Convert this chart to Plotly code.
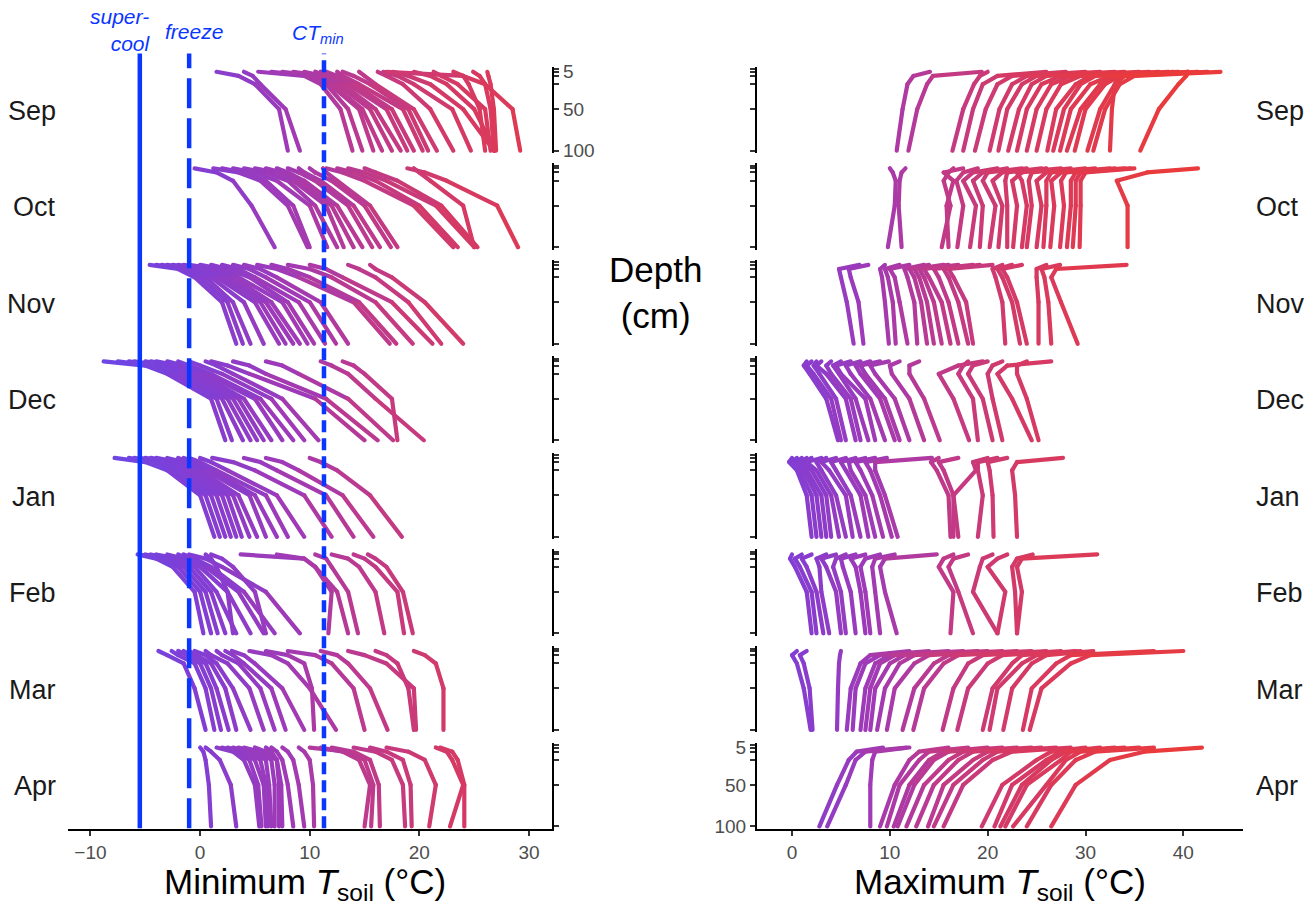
import plotly.graph_objects as go

# ---------------- data ----------------
DEPTHS = [5, 10, 20, 50, 100]          # cm
MONTHS = ["Sep", "Oct", "Nov", "Dec", "Jan", "Feb", "Mar", "Apr"]
DEPTH_TICKS = [2, 5, 10, 20, 50, 100]
DEPTH_LABELS = ["", "5", "", "", "50", "100"]
MIN_TICKS = [-10, 0, 10, 20, 30]
MAX_TICKS = [0, 10, 20, 30, 40]
SUPERCOOL = -5.5
FREEZE = -1.0
CT_MIN = 11.3

# Minimum soil temperature profiles, values at DEPTHS
MIN_SEP = [
    [1.5, 3.5, 5.0, 7.2, 8.0], [4.0, 4.8, 5.5, 7.8, 9.1], [5.3, 9.5, 11.0, 12.8, 13.9],
    [6.5, 10.0, 11.5, 13.5, 14.8], [7.5, 10.5, 11.8, 14.5, 15.8], [8.5, 11.0, 12.0, 14.8, 16.6],
    [9.5, 11.2, 12.5, 15.5, 17.5], [10.5, 11.5, 13.0, 16.0, 18.3], [11.0, 12.0, 13.5, 17.0, 18.9],
    [11.5, 12.5, 14.0, 17.5, 19.5], [12.5, 13.0, 14.5, 18.5, 20.3], [13.0, 14.0, 15.5, 19.0, 20.8],
    [14.5, 15.0, 16.0, 19.5, 21.6], [16.2, 17.0, 18.5, 21.0, 23.1], [16.7, 18.0, 19.5, 23.0, 24.7],
    [17.6, 19.0, 21.0, 24.0, 26.8], [19.5, 21.0, 22.5, 25.0, 26.9], [21.3, 22.0, 23.5, 26.0, 26.5],
    [23.1, 24.0, 24.5, 25.5, 26.0], [24.9, 25.5, 26.0, 26.5, 26.8], [17.0, 24.0, 26.0, 28.5, 29.2],
    [26.2, 26.3, 26.5, 26.8, 27.0],
]
MIN_OCT = [
    [-0.5, 1.5, 3.0, 4.7, 6.8], [1.2, 3.5, 5.5, 8.0, 9.8], [2.0, 4.0, 6.0, 8.5, 10.0],
    [3.0, 5.0, 7.0, 10.0, 11.6], [4.0, 6.0, 8.0, 10.5, 12.5], [5.0, 7.0, 8.5, 11.5, 13.1],
    [6.0, 7.5, 9.0, 12.0, 14.0], [7.0, 8.0, 9.5, 12.5, 14.8], [8.0, 9.0, 10.5, 13.5, 15.7],
    [9.0, 9.5, 11.0, 14.0, 16.4], [10.0, 10.5, 12.0, 15.0, 17.4], [11.2, 11.5, 12.5, 15.5, 18.0],
    [11.5, 13.0, 15.0, 19.5, 23.1], [12.5, 14.0, 16.0, 20.0, 23.5], [13.5, 15.0, 17.0, 21.5, 25.0],
    [15.0, 16.0, 18.0, 22.0, 25.3], [18.9, 20.5, 22.5, 27.1, 29.0], [19.5, 20.0, 21.0, 24.0, 25.0],
]
MIN_NOV = [
    [-4.6, -2.0, -0.5, 2.0, 3.3], [-4.0, -1.5, 0.0, 2.5, 3.9], [-3.5, -1.0, 0.5, 3.0, 4.6],
    [-3.0, -0.5, 1.0, 4.0, 5.8], [-2.5, 0.0, 1.5, 5.0, 7.2], [-2.0, 0.5, 2.0, 5.5, 7.8],
    [-1.5, 1.0, 2.5, 6.0, 8.5], [-1.0, 1.5, 3.0, 6.5, 9.1], [0.0, 2.0, 3.5, 7.5, 9.8],
    [1.0, 2.5, 4.5, 8.0, 10.4], [2.0, 3.5, 5.0, 9.0, 11.4], [3.0, 4.5, 6.0, 10.0, 12.4],
    [4.0, 5.5, 7.0, 11.0, 13.5], [5.2, 7.0, 9.0, 14.0, 17.3], [6.5, 8.0, 10.0, 14.5, 17.9],
    [8.0, 10.0, 12.0, 16.0, 19.4], [10.0, 11.5, 13.0, 17.5, 21.2], [13.5, 14.5, 16.0, 19.0, 22.0],
    [15.5, 16.0, 17.5, 20.5, 24.0],
]
MIN_DEC = [
    [-8.8, -5.0, -3.0, 1.0, 2.3], [-7.5, -4.5, -2.5, 1.5, 2.9], [-6.5, -4.0, -2.0, 2.0, 3.9],
    [-6.0, -3.5, -1.5, 2.5, 4.6], [-5.0, -3.0, -1.0, 3.0, 5.2], [-4.5, -2.5, -0.5, 3.5, 5.8],
    [-4.0, -2.0, 0.0, 4.0, 6.5], [-3.0, -1.5, 0.5, 5.0, 7.5], [-2.0, -1.0, 1.0, 5.5, 8.5],
    [-1.0, 0.0, 2.0, 6.5, 9.5], [0.5, 1.5, 3.0, 7.5, 10.8], [1.0, 2.5, 4.5, 10.5, 15.0],
    [3.0, 4.5, 6.0, 11.5, 16.2], [6.0, 7.5, 9.0, 13.5, 17.6], [11.0, 12.0, 13.5, 16.0, 20.4],
    [13.0, 14.0, 15.0, 17.5, 18.0],
]
MIN_JAN = [
    [-7.8, -5.0, -3.0, 0.0, 1.3], [-6.5, -4.5, -2.5, 0.5, 1.8], [-6.0, -4.0, -2.0, 1.0, 2.3],
    [-5.5, -3.5, -1.5, 1.5, 2.8], [-5.0, -3.0, -1.2, 2.0, 3.3], [-4.5, -2.5, -1.0, 2.5, 3.8],
    [-4.0, -2.0, -0.5, 3.0, 4.5], [-3.0, -1.5, 0.0, 3.5, 5.2], [-2.0, -1.0, 0.5, 4.5, 6.0],
    [-1.5, -0.5, 1.0, 5.0, 7.0], [-1.0, 0.0, 1.5, 6.0, 8.0], [0.0, 1.0, 2.5, 7.0, 9.5],
    [1.1, 3.0, 5.0, 9.5, 12.0], [4.0, 5.5, 7.0, 11.5, 14.0], [6.0, 7.5, 9.0, 13.0, 15.8],
    [10.0, 11.0, 12.5, 15.5, 18.4],
]
MIN_FEB = [
    [-5.7, -4.0, -2.5, -0.5, 0.3], [-5.5, -3.5, -2.0, 0.0, 1.0], [-5.0, -3.0, -1.5, 0.5, 1.6],
    [-4.5, -2.5, -1.0, 1.0, 2.3], [-4.0, -2.0, -0.5, 1.5, 3.3], [-3.0, -1.5, 0.0, 2.5, 4.6],
    [-2.0, -1.0, 0.5, 3.5, 5.8], [-1.5, -0.5, 1.0, 4.0, 6.8], [-1.0, 0.5, 2.0, 6.0, 9.1],
    [0.5, 1.0, 1.5, 2.5, 3.0], [1.0, 2.0, 3.0, 5.0, 6.0], [3.7, 9.5, 10.5, 12.5, 13.5],
    [7.0, 9.5, 10.5, 12.0, 11.7], [10.5, 11.5, 12.0, 13.5, 14.4], [12.0, 13.5, 14.5, 16.0, 16.8],
    [14.0, 15.0, 16.0, 18.0, 18.6], [15.3, 16.0, 17.0, 18.5, 19.4],
]
MIN_MAR = [
    [-3.8, -3.0, -1.5, -0.5, 0.5], [-2.6, -2.0, -0.5, 0.5, 1.3], [-2.0, -1.2, 0.0, 1.0, 1.9],
    [-1.5, -0.8, 0.5, 1.5, 2.6], [-1.0, -0.3, 1.0, 2.3, 3.3], [-0.5, 0.5, 1.5, 3.0, 4.6],
    [0.5, 1.0, 2.5, 4.5, 5.8], [1.5, 2.0, 3.5, 5.5, 6.8], [2.3, 3.0, 4.0, 6.5, 7.8],
    [2.9, 4.0, 5.0, 7.5, 9.5], [6.0, 8.0, 9.5, 10.2, 10.4], [4.5, 6.5, 8.0, 10.0, 12.4],
    [8.0, 10.5, 12.0, 14.0, 15.0], [11.0, 12.5, 13.5, 15.5, 17.1], [13.5, 15.0, 17.0, 19.5, 19.7],
    [16.0, 17.0, 18.0, 19.0, 19.5], [19.5, 20.5, 21.5, 22.2, 22.2],
]
MIN_APR = [
    [0.0, 0.3, 0.5, 0.8, 1.0], [0.5, 1.0, 1.8, 2.8, 3.3], [1.5, 3.0, 4.0, 5.0, 5.4],
    [2.0, 3.5, 4.5, 5.3, 5.6], [2.5, 4.0, 5.0, 5.8, 6.0], [3.0, 4.5, 5.5, 6.0, 6.2],
    [3.5, 5.0, 6.0, 6.3, 6.5], [4.0, 5.5, 6.5, 6.8, 6.8], [5.0, 6.0, 7.0, 7.2, 7.2],
    [6.0, 6.5, 7.0, 7.4, 7.5], [6.5, 7.0, 7.5, 8.0, 8.5], [7.5, 8.0, 8.5, 9.0, 9.5],
    [9.0, 9.5, 10.0, 10.3, 10.4], [11.0, 13.0, 14.5, 15.5, 15.0], [10.0, 13.5, 15.0, 15.8, 15.6],
    [12.0, 14.0, 15.5, 16.3, 16.4], [14.0, 16.0, 17.5, 18.5, 18.7], [15.5, 17.0, 18.5, 19.2, 19.3],
    [17.0, 19.0, 20.5, 21.5, 20.9], [21.5, 22.5, 23.0, 24.0, 22.8], [21.9, 23.0, 23.5, 24.1, 24.1],
]

# Maximum soil temperature profiles, values at DEPTHS
MAX_SEP = [
    [14.1, 12.4, 11.8, 11.3, 10.7], [19.4, 14.4, 13.8, 12.8, 11.9], [20.0, 19.2, 18.6, 17.5, 16.4],
    [26.0, 21.0, 19.5, 18.5, 17.5], [28.0, 22.5, 21.0, 19.8, 18.7], [30.0, 24.0, 22.5, 21.2, 20.2],
    [31.5, 25.0, 23.5, 22.0, 21.1], [33.0, 26.0, 24.5, 23.2, 22.1], [34.0, 27.5, 25.5, 24.0, 23.0],
    [35.5, 28.5, 26.5, 25.0, 24.0], [36.5, 29.5, 27.5, 26.0, 25.0], [37.5, 30.5, 29.0, 27.0, 26.1],
    [38.5, 31.0, 29.5, 27.8, 26.7], [39.5, 32.5, 30.5, 28.5, 27.4], [40.5, 33.0, 31.5, 29.5, 28.1],
    [41.5, 33.5, 32.0, 30.0, 28.9], [42.5, 34.0, 33.0, 31.5, 30.2], [43.8, 35.0, 33.5, 32.0, 30.8],
    [40.5, 40.3, 39.5, 37.5, 35.6], [39.0, 33.5, 33.0, 32.7, 32.5],
]
MAX_OCT = [
    [10.0, 10.3, 10.6, 10.5, 9.8], [11.6, 11.2, 11.0, 10.9, 11.2], [16.5, 16.0, 15.5, 16.2, 15.3],
    [17.5, 15.5, 16.5, 15.8, 16.0], [19.0, 17.5, 16.8, 17.5, 16.9], [21.0, 18.5, 17.5, 18.8, 18.2],
    [22.0, 19.5, 18.5, 19.5, 19.2], [23.5, 20.0, 19.5, 20.8, 20.2], [24.0, 21.5, 20.5, 21.5, 21.1],
    [25.5, 22.0, 21.8, 22.0, 22.0], [26.0, 23.5, 22.5, 23.0, 22.6], [27.5, 23.0, 23.5, 24.0, 23.5],
    [28.5, 24.5, 24.2, 24.5, 24.0], [30.0, 26.0, 25.0, 25.5, 25.0], [31.0, 26.5, 26.0, 26.0, 25.7],
    [32.5, 27.5, 26.5, 26.8, 26.4], [34.0, 28.0, 27.5, 27.8, 27.4], [34.6, 29.0, 28.5, 28.5, 28.1],
    [33.0, 29.5, 29.0, 29.0, 28.7], [35.0, 30.0, 29.5, 29.5, 29.4], [41.5, 36.3, 33.2, 34.3, 34.3],
]
MAX_NOV = [
    [6.9, 4.8, 5.0, 5.6, 6.3], [7.8, 5.8, 6.0, 6.8, 7.3], [9.5, 9.0, 9.2, 9.5, 9.9],
    [11.0, 9.5, 9.8, 10.3, 10.6], [12.0, 10.0, 10.5, 11.0, 11.8], [13.5, 11.5, 11.8, 12.5, 12.8],
    [14.0, 12.0, 12.5, 13.2, 13.8], [15.5, 12.5, 13.0, 13.8, 14.5], [16.0, 13.0, 13.5, 14.5, 15.3],
    [17.0, 13.5, 14.0, 15.3, 16.2], [18.5, 14.5, 15.0, 16.0, 17.0], [19.2, 15.5, 16.0, 17.0, 18.0],
    [20.5, 16.0, 16.5, 17.8, 18.5], [21.5, 20.5, 20.8, 21.5, 21.8], [22.5, 21.0, 21.5, 22.5, 23.3],
    [23.5, 21.5, 22.0, 23.0, 24.0], [26.0, 25.0, 25.0, 25.2, 25.2], [27.4, 25.5, 25.8, 26.2, 26.5],
    [34.2, 27.0, 26.5, 27.5, 29.2],
]
MAX_DEC = [
    [1.5, 1.2, 1.8, 3.5, 4.7], [2.0, 1.5, 2.2, 4.0, 5.0], [2.5, 2.2, 2.8, 4.5, 5.5],
    [3.0, 2.5, 3.5, 5.5, 6.5], [4.0, 3.5, 4.0, 6.0, 7.0], [5.0, 4.2, 4.8, 6.5, 7.8],
    [6.0, 4.5, 5.0, 7.5, 8.5], [7.0, 5.5, 6.0, 8.0, 9.5], [8.0, 6.5, 7.0, 9.0, 10.5],
    [9.0, 7.0, 7.5, 9.5, 11.0], [9.9, 8.0, 8.5, 10.5, 12.0], [11.0, 10.0, 10.2, 12.0, 13.5],
    [13.0, 12.0, 12.0, 13.5, 15.1], [19.5, 17.0, 15.0, 16.5, 18.1], [18.0, 17.5, 17.0, 18.5, 19.0],
    [20.0, 18.5, 18.0, 19.5, 20.5], [21.5, 20.5, 20.0, 20.5, 21.5], [26.5, 22.0, 21.0, 22.5, 24.5],
    [24.0, 23.0, 23.0, 24.0, 25.2],
]
MAX_JAN = [
    [0.0, -0.3, 0.5, 1.5, 2.0], [0.5, 0.0, 0.8, 2.0, 2.5], [1.0, 0.5, 1.2, 2.5, 3.0],
    [1.5, 0.8, 1.5, 3.0, 3.5], [2.0, 1.2, 2.0, 3.5, 4.0], [3.0, 1.5, 2.5, 4.0, 4.8],
    [3.5, 2.5, 3.0, 4.5, 5.5], [4.5, 3.0, 3.8, 5.5, 6.2], [5.5, 4.0, 4.5, 6.0, 7.0],
    [6.5, 5.0, 5.5, 7.0, 7.8], [7.5, 5.8, 6.0, 7.5, 8.5], [8.5, 6.5, 7.0, 8.2, 9.3],
    [9.7, 7.5, 8.0, 9.0, 10.2], [14.3, 8.5, 8.5, 9.5, 10.8], [15.0, 14.2, 14.8, 16.0, 16.2],
    [17.0, 15.0, 15.5, 16.5, 17.0], [20.0, 18.5, 18.8, 16.5, 16.5], [21.0, 19.0, 19.0, 19.5, 19.0],
    [22.0, 20.0, 20.2, 20.5, 20.6], [27.7, 23.0, 22.5, 22.8, 23.0],
]
MAX_FEB = [
    [0.0, -0.2, 0.3, 1.5, 2.0], [1.0, 0.3, 0.8, 2.0, 2.5], [2.0, 1.0, 1.5, 2.5, 3.2],
    [3.5, 2.5, 2.8, 3.0, 3.8], [4.5, 3.0, 3.5, 4.5, 5.0], [5.5, 4.5, 4.2, 5.0, 5.5],
    [6.5, 5.0, 5.2, 6.0, 6.5], [7.5, 6.0, 6.5, 7.0, 7.5], [9.0, 7.5, 7.0, 7.5, 8.0],
    [10.5, 8.5, 8.2, 8.5, 9.0], [14.8, 9.5, 9.0, 9.5, 10.7], [16.5, 15.5, 15.0, 16.5, 16.2],
    [18.0, 16.5, 16.0, 17.0, 18.5], [20.5, 19.5, 19.2, 18.5, 21.0], [22.0, 21.0, 20.0, 21.8, 21.0],
    [24.6, 23.0, 22.5, 22.8, 23.0], [31.2, 23.5, 23.0, 23.5, 23.0],
]
MAX_MAR = [
    [0.5, 0.0, 0.5, 1.2, 1.9], [1.5, 0.8, 1.2, 1.8, 2.1], [5.0, 4.9, 4.8, 4.7, 4.6],
    [12.0, 8.0, 7.0, 6.0, 5.6], [14.0, 9.0, 7.5, 6.5, 6.2], [16.0, 10.0, 8.5, 7.5, 7.0],
    [17.5, 10.5, 9.0, 8.0, 7.5], [19.0, 11.5, 10.0, 8.5, 8.0], [20.0, 12.5, 11.0, 9.5, 8.7],
    [21.5, 14.0, 12.5, 10.5, 9.7], [23.0, 16.0, 14.5, 12.5, 11.3], [24.5, 17.0, 15.5, 13.5, 12.4],
    [26.0, 19.5, 18.0, 16.5, 15.4], [27.5, 21.5, 20.0, 18.0, 16.9], [29.0, 23.5, 22.5, 20.5, 19.5],
    [29.5, 25.0, 23.5, 21.0, 20.2], [30.8, 26.0, 24.5, 22.5, 21.6], [37.0, 28.5, 27.0, 24.5, 23.6],
    [40.0, 30.5, 28.5, 25.5, 24.3],
]
MAX_APR = [
    [9.3, 6.6, 5.8, 4.6, 2.8], [11.7, 7.5, 6.5, 5.5, 3.6], [12.0, 8.5, 8.2, 8.0, 8.0],
    [16.0, 13.0, 12.0, 10.5, 9.0], [18.0, 14.0, 13.0, 11.0, 9.7], [20.0, 15.5, 14.0, 12.0, 10.4],
    [21.5, 16.0, 14.5, 12.5, 10.8], [23.0, 17.5, 16.0, 13.5, 11.7], [24.5, 18.5, 17.0, 14.5, 12.7],
    [25.5, 20.0, 18.5, 15.5, 13.9], [27.0, 21.0, 19.5, 16.5, 14.5], [28.5, 22.5, 20.5, 17.5, 15.5],
    [30.0, 26.5, 25.0, 21.5, 19.4], [31.5, 27.5, 26.0, 22.5, 20.7], [33.0, 28.0, 26.5, 23.5, 21.3],
    [34.0, 28.5, 27.5, 24.0, 21.8], [35.5, 29.5, 28.0, 26.0, 22.6], [37.0, 31.0, 29.0, 26.5, 24.0],
    [41.9, 36.0, 32.5, 29.0, 26.5],
]

MIN_ROWS = [MIN_SEP, MIN_OCT, MIN_NOV, MIN_DEC, MIN_JAN, MIN_FEB, MIN_MAR, MIN_APR]
MAX_ROWS = [MAX_SEP, MAX_OCT, MAX_NOV, MAX_DEC, MAX_JAN, MAX_FEB, MAX_MAR, MAX_APR]

# ---------------- styling ----------------
W, H = 1316, 906
FONT = "Liberation Sans, Arial, Helvetica, sans-serif"
BLUE = "#0b36ff"
STOPS = [(-9, (104, 72, 234)), (0, (130, 62, 212)), (8, (160, 58, 182)),
         (15, (190, 58, 140)), (22, (210, 58, 106)), (30, (224, 58, 80)),
         (45, (240, 60, 46))]


def temp_color(t):
    if t <= STOPS[0][0]:
        c = STOPS[0][1]
    elif t >= STOPS[-1][0]:
        c = STOPS[-1][1]
    else:
        for (t0, c0), (t1, c1) in zip(STOPS[:-1], STOPS[1:]):
            if t0 <= t <= t1:
                f = (t - t0) / (t1 - t0)
                c = tuple(c0[k] + f * (c1[k] - c0[k]) for k in range(3))
                break
    return "rgb(%d,%d,%d)" % tuple(int(round(v)) for v in c)


def py(p):
    """vertical pixel position (from top) -> paper coordinate"""
    q = (p - 6.4) / 0.984
    return 1 - q / H


LEFT_DOM = [68 / W, 552 / W]
RIGHT_DOM = [757 / W, 1243 / W]
LEFT_RANGE = [-12.05, 32.1]
RIGHT_RANGE = [-3.58, 46.1]
ROW_TOP0, ROW_STEP, ROW_H = 65.3, 96.7, 86.5


def row_domain(i):
    top = ROW_TOP0 + ROW_STEP * i
    bot = top + ROW_H
    return [py(bot), py(top)]


fig = go.Figure()
layout = dict(
    width=W, height=H, margin=dict(l=0, r=0, t=0, b=0),
    paper_bgcolor="white", plot_bgcolor="white", showlegend=False,
    font=dict(family=FONT, color="#1a1a1a"),
)

for i in range(8):
    for col in range(2):
        k = 2 * i + col + 1
        xname = "x" if k == 1 else "x%d" % k
        yname = "y" if k == 1 else "y%d" % k
        rows = MIN_ROWS if col == 0 else MAX_ROWS
        # bin segments by mean temperature for colour gradient
        bins = {}
        for prof in rows[i]:
            for j in range(len(DEPTHS) - 1):
                tm = 0.5 * (prof[j] + prof[j + 1])
                key = round(tm * 2) / 2
                xs, ys = bins.setdefault(key, ([], []))
                xs += [prof[j], prof[j + 1], None]
                ys += [DEPTHS[j], DEPTHS[j + 1], None]
        for key in sorted(bins):
            xs, ys = bins[key]
            fig.add_trace(go.Scatter(
                x=xs, y=ys, mode="lines", xaxis=xname, yaxis=yname,
                line=dict(color=temp_color(key), width=4.2),
                hoverinfo="skip", connectgaps=False))

        last = (i == 7)
        xa = dict(
            domain=LEFT_DOM if col == 0 else RIGHT_DOM,
            range=LEFT_RANGE if col == 0 else RIGHT_RANGE,
            anchor=yname, showgrid=False, zeroline=False,
            visible=last,
        )
        if last:
            xa.update(showline=True, linecolor="black", linewidth=2.2,
                      ticks="outside", ticklen=5, tickwidth=1.5, tickcolor="#333333",
                      tickvals=MIN_TICKS if col == 0 else MAX_TICKS,
                      tickfont=dict(size=19, color="#4d4d4d", family=FONT))
        show_lab = (col == 0 and i == 0) or (col == 1 and i == 7)
        ya = dict(
            domain=row_domain(i), range=[103, -1], anchor=xname,
            side="right" if col == 0 else "left",
            showgrid=False, zeroline=False, showline=True,
            linecolor="black", linewidth=2.2,
            ticks="outside", ticklen=5, tickwidth=1.5, tickcolor="#333333",
            tickvals=DEPTH_TICKS,
            ticktext=DEPTH_LABELS if show_lab else [" "] * len(DEPTH_TICKS),
            tickfont=dict(size=19, color="#4d4d4d", family=FONT),
        )
        layout["xaxis" if k == 1 else "xaxis%d" % k] = xa
        layout["yaxis" if k == 1 else "yaxis%d" % k] = ya

fig.update_layout(**layout)

# reference lines on minimum panel
for xv, dash in [(SUPERCOOL, "solid"), (FREEZE, "30px,10px"), (CT_MIN, "12px,6px")]:
    fig.add_shape(type="line", xref="x", yref="paper", x0=xv, x1=xv,
                  y0=py(828), y1=py(52), layer="above",
                  line=dict(color=BLUE, width=4.5, dash=dash))

ann = []
for i, m in enumerate(MONTHS):
    yc = py(ROW_TOP0 + ROW_STEP * i + 44)
    ann.append(dict(text=m, x=58 / W, y=yc, xref="paper", yref="paper",
                    xanchor="right", yanchor="middle", showarrow=False,
                    font=dict(size=27, family=FONT, color="#1a1a1a")))
    ann.append(dict(text=m, x=1254 / W, y=yc, xref="paper", yref="paper",
                    xanchor="left", yanchor="middle", showarrow=False,
                    font=dict(size=27, family=FONT, color="#1a1a1a")))

ann.append(dict(text="Depth<br>(cm)", x=655 / W, y=py(291), xref="paper", yref="paper",
                xanchor="center", yanchor="middle", showarrow=False,
                font=dict(size=35, family=FONT, color="black")))
ann.append(dict(text="Minimum <i>T</i><sub>soil</sub> (°C)", x=305 / W, y=py(884),
                xref="paper", yref="paper", xanchor="center", yanchor="middle",
                showarrow=False, font=dict(size=35, family=FONT, color="black")))
ann.append(dict(text="Maximum <i>T</i><sub>soil</sub> (°C)", x=1000 / W, y=py(884),
                xref="paper", yref="paper", xanchor="center", yanchor="middle",
                showarrow=False, font=dict(size=35, family=FONT, color="black")))
ann.append(dict(text="<i>super-</i><br><i>cool</i>", x=152 / W, y=py(28),
                xref="paper", yref="paper", xanchor="right", yanchor="middle", align="right",
                showarrow=False, font=dict(size=21, family=FONT, color=BLUE)))
ann.append(dict(text="<i>freeze</i>", x=194 / W, y=py(30),
                xref="paper", yref="paper", xanchor="center", yanchor="middle",
                showarrow=False, font=dict(size=21, family=FONT, color=BLUE)))
ann.append(dict(text="<i>CT</i><sub><i>min</i></sub>", x=318 / W, y=py(32),
                xref="paper", yref="paper", xanchor="center", yanchor="middle",
                showarrow=False, font=dict(size=21, family=FONT, color=BLUE)))
fig.update_layout(annotations=ann)

post = ("var de=document.documentElement, bd=document.body;"
        "de.style.margin='0';de.style.padding='0';de.style.overflow='hidden';"
        "de.style.height='906px';"
        "bd.style.margin='0';bd.style.padding='0';bd.style.overflow='hidden';"
        "bd.style.height='906px';"
        "var gd=document.getElementById('{plot_id}');"
        "gd.style.position='absolute';gd.style.left='0px';gd.style.top='0px';"
        "gd.querySelectorAll('.scatterlayer path.js-line').forEach(function(p){"
        "p.style.strokeLinecap='round';p.style.strokeLinejoin='round';});")
fig.write_html("out.html", post_script=post, config={"displayModeBar": False})
